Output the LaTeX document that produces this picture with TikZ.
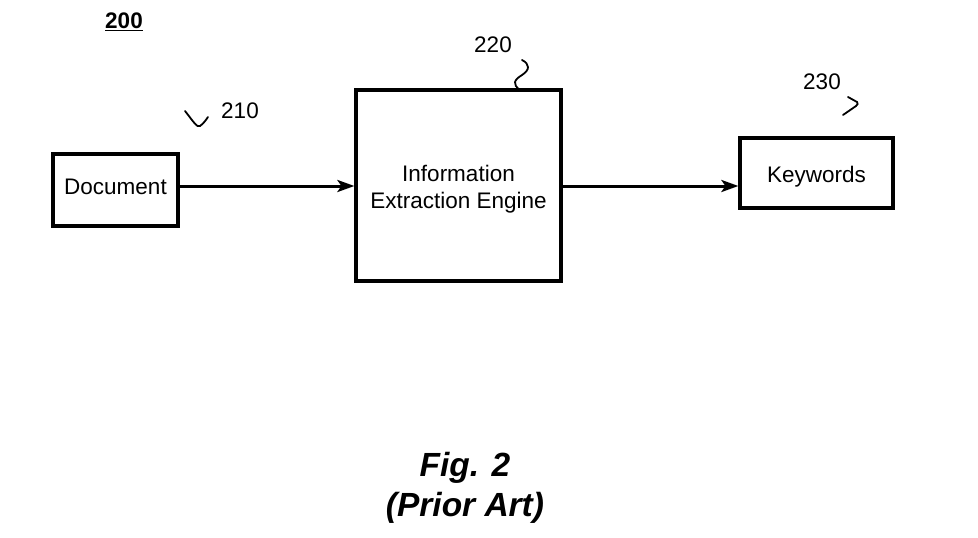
\documentclass[tikz,border=0pt]{standalone}
\usepackage{fontspec}
\setmainfont{Liberation Sans}
\usetikzlibrary{arrows.meta}
\begin{document}
\begin{tikzpicture}[x=1pt,y=-1pt,
  box/.style={draw,line width=3.2pt,inner sep=0pt,font=\fontsize{22.5}{27}\selectfont,align=center},
  conn/.style={line width=3pt,-{Stealth[length=17pt,width=12pt,inset=4pt]}},
  lbl/.style={font=\fontsize{22.5}{27}\selectfont,inner sep=0pt},
  lead/.style={line width=1.8pt,line cap=round}]
\useasboundingbox (0,0) rectangle (978,538);
\node[box,minimum width=125pt,minimum height=72pt] (doc) at (115.5,190) {\raisebox{3pt}[\height][\depth]{Document}};
\node[box,minimum width=205pt,minimum height=191pt] (info) at (458.5,185.5) {\raisebox{-4pt}[\height][\depth]{\begin{tabular}{@{}c@{}}Information\\Extraction Engine\end{tabular}}};
\node[box,minimum width=153pt,minimum height=70pt] (kw) at (816.5,173) {\raisebox{-4pt}[\height][\depth]{Keywords}};
\coordinate (a) at (0,186);
\draw[conn] (doc.east |- a) -- (info.west |- a);
\draw[conn] (info.east |- a) -- (kw.west |- a);
\node[lbl,font=\fontsize{22.5}{27}\selectfont\bfseries] (n200) at (124,22) {\underline{200}};
\node[lbl] (n210) at (240,111) {210};
\node[lbl] (n220) at (493,45) {220};
\node[lbl] (n230) at (822,82) {230};
\draw[lead] (185,111) .. controls (193,121) and (197,128) .. (200,126) .. controls (203,124) and (206,120) .. (208,117);
\draw[lead] (522,60) .. controls (530,64) and (530,70) .. (522,75) .. controls (514,80) and (512,84) .. (520,90);
\draw[lead] (848,97) -- (857,102) .. controls (858,104) .. (856,106) -- (843,115);
\node[font=\fontsize{33.5}{40}\selectfont\bfseries\itshape,align=center,inner sep=0pt] (fig) at (465,488) {Fig. 2\\(Prior Art)};
\end{tikzpicture}
\end{document}
